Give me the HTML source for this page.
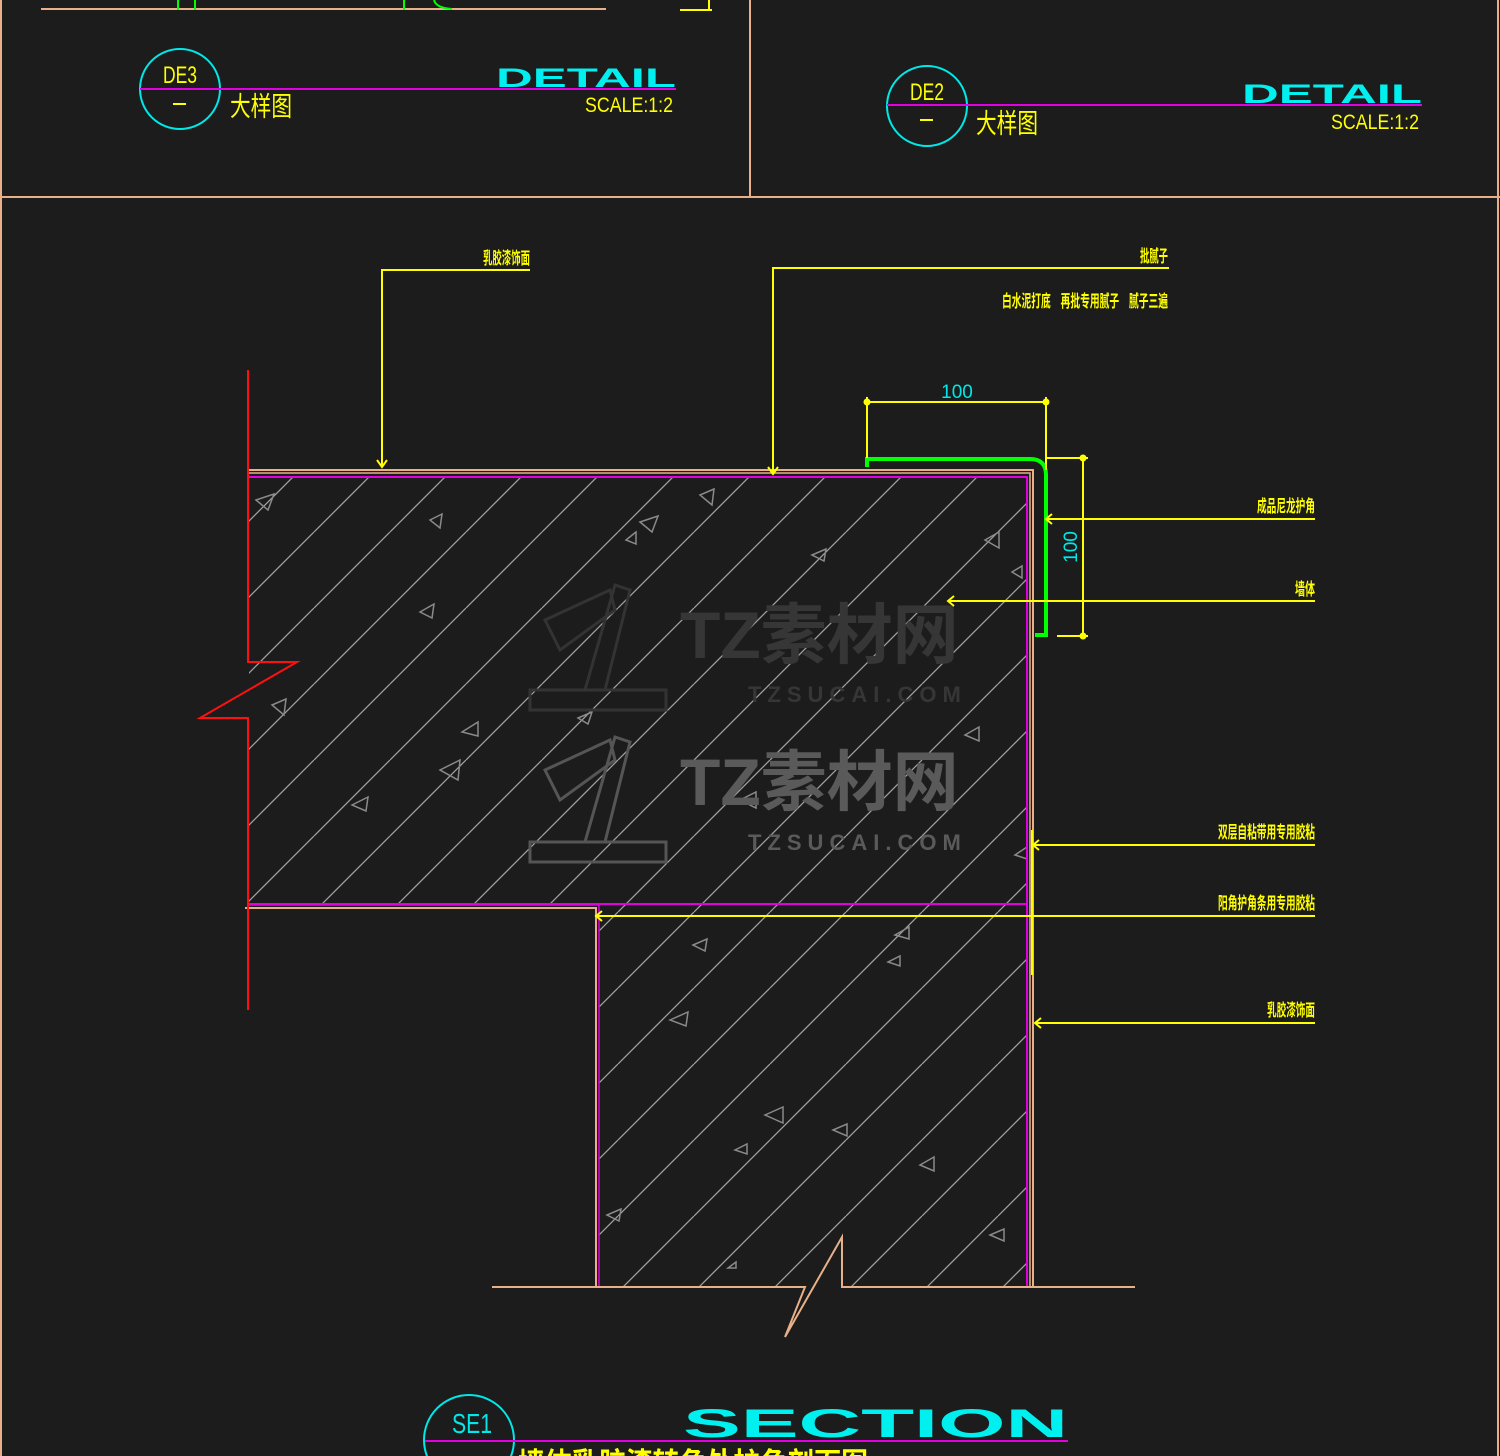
<!DOCTYPE html>
<html><head><meta charset="utf-8"><style>
html,body{margin:0;padding:0;background:#1c1c1c;}
svg{display:block;}
text{font-family:"Liberation Sans","Noto Sans CJK SC",sans-serif;}
.cn{font-family:"Noto Sans CJK SC","WenQuanYi Zen Hei",sans-serif;font-weight:bold;fill:#ffff00;}
</style></head><body>
<svg width="1500" height="1456" viewBox="0 0 1500 1456" xmlns="http://www.w3.org/2000/svg">
<defs>
<pattern id="h" patternUnits="userSpaceOnUse" width="76" height="76" patternTransform="translate(10,0)">
<line x1="0" y1="76" x2="76" y2="0" stroke="#a0a0a0" stroke-width="1.3"/>
<line x1="-76" y1="76" x2="0" y2="0" stroke="#a0a0a0" stroke-width="1.3"/>
<line x1="76" y1="76" x2="152" y2="0" stroke="#a0a0a0" stroke-width="1.3"/>
</pattern>
</defs>
<rect width="1500" height="1456" fill="#1c1c1c"/>
<g stroke="#e8b088" stroke-width="2" fill="none">
<line x1="1" y1="0" x2="1" y2="1456"/>
<line x1="1498" y1="0" x2="1498" y2="1456"/>
<line x1="0" y1="197" x2="1500" y2="197"/>
<line x1="750" y1="0" x2="750" y2="197"/>
<line x1="41" y1="9" x2="606" y2="9"/>
</g>
<g stroke="#00ff00" stroke-width="2" fill="none"><path d="M178 0V10M195 0V10M404 0V10M434 0 Q436 8 452 9"/></g>
<g stroke="#ffff00" stroke-width="2"><line x1="680" y1="10" x2="712" y2="10"/><line x1="709" y1="0" x2="709" y2="10"/></g>
<circle cx="180" cy="89" r="40" fill="none" stroke="#00e8e8" stroke-width="2"/>
<line x1="140" y1="89" x2="676" y2="89" stroke="#e000e0" stroke-width="2"/>
<text x="180" y="83" fill="#ffff00" font-size="24" text-anchor="middle" textLength="34" lengthAdjust="spacingAndGlyphs">DE3</text>
<line x1="173" y1="104" x2="186" y2="104" stroke="#ffff00" stroke-width="2"/>
<text x="230" y="116" class="cn" style="font-weight:normal" font-size="27" textLength="62" lengthAdjust="spacingAndGlyphs">大样图</text>
<text x="496" y="87" fill="#00f0f0" font-size="27" font-weight="bold" textLength="180" lengthAdjust="spacingAndGlyphs">DETAIL</text>
<text x="585" y="112" fill="#ffff00" font-size="21" textLength="88" lengthAdjust="spacingAndGlyphs">SCALE:1:2</text>
<circle cx="927" cy="106" r="40" fill="none" stroke="#00e8e8" stroke-width="2"/>
<line x1="887" y1="105" x2="1422" y2="105" stroke="#e000e0" stroke-width="2"/>
<text x="927" y="100" fill="#ffff00" font-size="24" text-anchor="middle" textLength="34" lengthAdjust="spacingAndGlyphs">DE2</text>
<line x1="920" y1="120" x2="933" y2="120" stroke="#ffff00" stroke-width="2"/>
<text x="976" y="133" class="cn" style="font-weight:normal" font-size="27" textLength="62" lengthAdjust="spacingAndGlyphs">大样图</text>
<text x="1242" y="103" fill="#00f0f0" font-size="27" font-weight="bold" textLength="180" lengthAdjust="spacingAndGlyphs">DETAIL</text>
<text x="1331" y="129" fill="#ffff00" font-size="21" textLength="88" lengthAdjust="spacingAndGlyphs">SCALE:1:2</text>

<polygon points="249,477 1027,477 1027,1287 599,1287 599,904 249,904" fill="url(#h)"/>
<g fill="none" stroke="#8a8a8a" stroke-width="1.5">
<path d="M256 500l18-6-6 16z M430 520l12-6-2 14z M640 522l18-6-6 16z M700 495l14-6-2 16z M985 540l14-8 0 16z M812 555l14-6-2 12z M420 612l14-8-2 14z M626 540l10-8 0 12z M272 705l14-6-2 16z M578 718l14-6-4 12z M440 770l20-10-2 20z M352 805l16-8-2 14z M462 732l16-10 0 14z M965 735l14-8 0 14z M740 800l16-8 0 16z M1012 572l10-6 0 12z M693 945l14-6-2 12z M895 935l14-8 0 12z M888 962l12-6 0 10z M670 1020l18-8-2 14z M765 1115l18-8 0 16z M833 1130l14-6 0 12z M735 1150l12-6 0 10z M920 1165l14-8 0 14z M607 1215l14-6-2 12z M990 1235l14-6 0 12z M1015 855l12-8 0 12z M728 1268l8-6 0 6z"/>
</g>
<g font-weight="bold">
<text x="680" y="658" font-size="66" fill="#363636">TZ素材网</text>
<text x="748" y="702" font-size="22" fill="#363636" letter-spacing="6">TZSUCAI.COM</text>
<text x="680" y="805" font-size="66" fill="#5a5a5a">TZ素材网</text>
<text x="748" y="850" font-size="22" fill="#5a5a5a" letter-spacing="6">TZSUCAI.COM</text>
</g>
<g fill="none" stroke="#555" stroke-width="3"><path d="M530 842h136v20H530z M585 842l30-105 15 5-25 100 M545 770l65-30 5 20-55 40z"/></g>
<g fill="none" stroke="#333" stroke-width="3"><path d="M530 690h136v20H530z M585 690l30-105 15 5-25 100 M545 620l65-30 5 20-55 40z"/></g>
<g fill="none" stroke-width="2">
<path d="M249 470H1033V1287" stroke="#e8b088"/>
<path d="M249 473H1030V1287" stroke="#e8b088" stroke-width="1.5"/>
<path d="M249 477H1027V1287" stroke="#e000e0"/>
<path d="M245 908H596V1287" stroke="#e8b088"/>
<path d="M249 905H599V1287" stroke="#e000e0" stroke-width="1.5"/>
<path d="M249 904H1027" stroke="#e000e0"/>
<path d="M492 1287H805L785 1337L842 1237V1287H1135" stroke="#e8b088"/>
<path d="M248 370V662H297L200 718H248V1010" stroke="#ff1010"/>
<line x1="1032" y1="830" x2="1032" y2="975" stroke="#ffff00"/>
</g>
<path d="M867 467V459H1030Q1046 459 1046 475V635H1035" fill="none" stroke="#00ff00" stroke-width="4"/>
<g stroke="#ffff00" stroke-width="2" fill="#ffff00">
<line x1="867" y1="402" x2="1046" y2="402"/>
<line x1="867" y1="397" x2="867" y2="458"/>
<line x1="1046" y1="397" x2="1046" y2="470"/>
<circle cx="867" cy="402" r="2.5"/><circle cx="1046" cy="402" r="2.5"/>
<line x1="1083" y1="458" x2="1083" y2="636"/>
<line x1="1046" y1="458" x2="1088" y2="458"/>
<line x1="1057" y1="636" x2="1088" y2="636"/>
<circle cx="1083" cy="458" r="2.5"/><circle cx="1083" cy="636" r="2.5"/>
</g>
<text x="957" y="398" fill="#00e8e8" font-size="19" text-anchor="middle">100</text>
<text transform="translate(1077,547) rotate(-90)" fill="#00e8e8" font-size="19" text-anchor="middle">100</text>
<g stroke="#ffff00" stroke-width="2" fill="none">
<path d="M530 270H382V466"/><path d="M377 460l5 7 5-7"/>
<path d="M1169 268H773V473"/><path d="M768 467l5 7 5-7"/>
<path d="M1315 519H1046"/><path d="M1052 514l-6 5 6 5"/>
<path d="M1315 601H948"/><path d="M954 596l-6 5 6 5"/>
<path d="M1315 845H1033"/><path d="M1039 840l-6 5 6 5"/>
<path d="M1315 916H596"/><path d="M602 911l-6 5 6 5"/>
<path d="M1315 1023H1035"/><path d="M1041 1018l-6 5 6 5"/>
</g>
<g class="cn" font-size="17" lengthAdjust="spacingAndGlyphs">
<text x="483" y="264" textLength="47" lengthAdjust="spacingAndGlyphs">乳胶漆饰面</text>
<text x="1140" y="262" textLength="28" lengthAdjust="spacingAndGlyphs">批腻子</text>
<text x="1002" y="307" textLength="166" lengthAdjust="spacingAndGlyphs">白水泥打底　再批专用腻子　腻子三遍</text>
<text x="1257" y="512" textLength="58" lengthAdjust="spacingAndGlyphs">成品尼龙护角</text>
<text x="1295" y="595" textLength="20" lengthAdjust="spacingAndGlyphs">墙体</text>
<text x="1218" y="838" textLength="97" lengthAdjust="spacingAndGlyphs">双层自粘带用专用胶粘</text>
<text x="1218" y="909" textLength="97" lengthAdjust="spacingAndGlyphs">阳角护角条用专用胶粘</text>
<text x="1267" y="1016" textLength="48" lengthAdjust="spacingAndGlyphs">乳胶漆饰面</text>
</g>
<circle cx="469" cy="1440" r="45" fill="none" stroke="#00e8e8" stroke-width="2"/>
<line x1="425" y1="1441" x2="1068" y2="1441" stroke="#e000e0" stroke-width="2"/>
<text x="472" y="1433" fill="#00e8e8" font-size="28" text-anchor="middle" textLength="40" lengthAdjust="spacingAndGlyphs">SE1</text>
<text x="683" y="1437" fill="#00f0f0" font-size="40" font-weight="bold" textLength="385" lengthAdjust="spacingAndGlyphs">SECTION</text>
<text x="518" y="1474" class="cn" font-size="30" textLength="350" lengthAdjust="spacingAndGlyphs">墙体乳胶漆转角处护角剖面图</text>
</svg>
</body></html>
